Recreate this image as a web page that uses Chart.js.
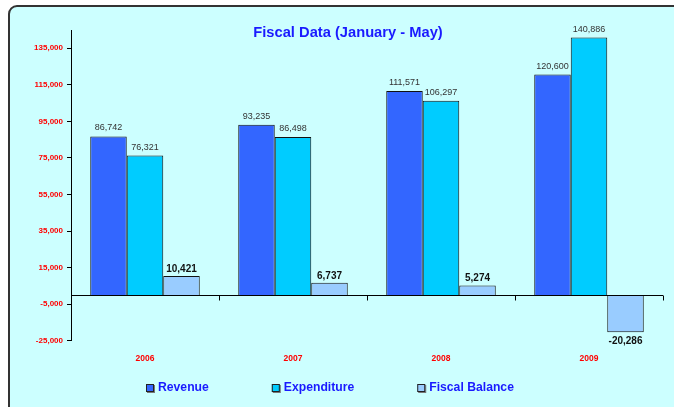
<!DOCTYPE html>
<html>
<head>
<meta charset="utf-8">
<script src="https://cdn.jsdelivr.net/npm/chart.js@4.4.1/dist/chart.umd.min.js"></script>
<style>
  html, body { margin: 0; padding: 0; background: #ffffff; overflow: hidden; }
  #wrap { position: relative; width: 674px; height: 407px; overflow: hidden; }
  #panel { position: absolute; left: 8px; top: 5px; width: 720px; height: 440px;
           background: #CCFFFF; border: 2px solid #333333; border-top-left-radius: 9px; box-sizing: border-box; }
  #c { position: absolute; left: 0; top: 0; }
</style>
</head>
<body>
<div id="wrap">
  <div id="panel"></div>
  <canvas id="c" width="674" height="407"></canvas>
</div>
<script>
const categories = ['2006', '2007', '2008', '2009'];
const revenue = [86742, 93235, 111571, 120600];
const expenditure = [76321, 86498, 106297, 140886];
const fiscalBalance = [10421, 6737, 5274, -20286];
const yTicks = [-25000, -5000, 15000, 35000, 55000, 75000, 95000, 115000, 135000];
const chartTitle = 'Fiscal Data (January - May)';

const FONT = "'Liberation Sans', Arial, Helvetica, sans-serif";
const fmt = v => v.toLocaleString('en-US');

const titlePlugin = {
  id: 'overlayTitle',
  afterDraw(chart) {
    const ctx = chart.ctx;
    ctx.save();
    ctx.font = 'bold 14.7px ' + FONT;
    ctx.fillStyle = '#1A1AFF';
    ctx.textAlign = 'center';
    ctx.textBaseline = 'middle';
    ctx.fillText(chartTitle, 348, 33);
    ctx.restore();
  }
};

const legendPlugin = {
  id: 'bottomLegend',
  afterDraw(chart) {
    const ctx = chart.ctx;
    ctx.save();
    ctx.font = 'bold 12.2px ' + FONT;
    const items = chart.data.datasets.map(ds => ({ text: ds.label, color: ds.backgroundColor, w: 12 + ctx.measureText(ds.label).width }));
    const gap = 63;
    const total = items.reduce((s, it) => s + it.w, 0) + gap * (items.length - 1);
    let x = Math.round(330 - total / 2);
    const yc = 388;
    items.forEach(it => {
      ctx.fillStyle = '#777';
      ctx.fillRect(x + 1, yc - 3, 8, 8);
      ctx.fillStyle = it.color;
      ctx.fillRect(x, yc - 4, 8, 8);
      ctx.strokeStyle = '#222';
      ctx.lineWidth = 1;
      ctx.strokeRect(x + 0.5, yc - 3.5, 7, 7);
      ctx.fillStyle = '#1A1AFF';
      ctx.textAlign = 'left';
      ctx.textBaseline = 'middle';
      ctx.fillText(it.text, x + 12, yc);
      x += it.w + gap;
    });
    ctx.restore();
  }
};

const decorPlugin = {
  id: 'decor',
  afterDatasetsDraw(chart) {
    const ctx = chart.ctx;
    const y = chart.scales.y;
    const y0 = Math.round(y.getPixelForValue(0)) + 0.5;
    const area = chart.chartArea;
    ctx.save();
    ctx.strokeStyle = '#000';
    ctx.lineWidth = 1;
    ctx.beginPath();
    ctx.moveTo(area.left, y0);
    ctx.lineTo(area.right, y0);
    const w = (area.right - area.left) / categories.length;
    for (let i = 1; i <= categories.length; i++) {
      const px = Math.round(area.left + i * w) + 0.5;
      ctx.moveTo(px, y0);
      ctx.lineTo(px, y0 + 5);
    }
    ctx.stroke();

    chart.data.datasets.forEach((ds, di) => {
      const meta = chart.getDatasetMeta(di);
      meta.data.forEach((bar, i) => {
        const v = ds.data[i];
        ctx.textAlign = 'center';
        if (di < 2) {
          ctx.font = '9px ' + FONT;
          ctx.fillStyle = '#333333';
          ctx.textBaseline = 'bottom';
          ctx.fillText(fmt(v), bar.x, bar.y - 4);
        } else {
          ctx.font = 'bold 10px ' + FONT;
          ctx.fillStyle = '#111111';
          if (v >= 0) {
            ctx.textBaseline = 'bottom';
            ctx.fillText(fmt(v), bar.x, bar.y - 2);
          } else {
            ctx.textBaseline = 'top';
            ctx.fillText(fmt(v), bar.x, bar.y + 4);
          }
        }
      });
    });
    ctx.restore();
  }
};

new Chart(document.getElementById('c'), {
  type: 'bar',
  data: {
    labels: categories,
    datasets: [
      { label: 'Revenue', data: revenue, backgroundColor: '#3366FF', borderColor: '#111', borderWidth: 1 },
      { label: 'Expenditure', data: expenditure, backgroundColor: '#00CCFF', borderColor: '#111', borderWidth: 1 },
      { label: 'Fiscal Balance', data: fiscalBalance, backgroundColor: '#99CCFF', borderColor: '#111', borderWidth: 1 }
    ]
  },
  options: {
    responsive: false,
    animation: false,
    devicePixelRatio: 1,
    layout: { padding: { left: 0, right: 11, top: 30, bottom: 38 } },
    datasets: { bar: { categoryPercentage: 0.74, barPercentage: 1.0 } },
    scales: {
      x: {
        grid: { display: false },
        border: { display: false },
        ticks: { color: '#FF0000', font: { family: FONT, size: 8.5, weight: 'bold' }, padding: 5, maxRotation: 0 }
      },
      y: {
        min: -25000,
        max: 145000,
        afterBuildTicks(scale) { scale.ticks = yTicks.map(v => ({ value: v })); },
        afterFit(scale) { scale.width = 71; },
        grid: { drawOnChartArea: false, tickLength: 4, tickColor: '#000', color: '#000' },
        border: { display: true, color: '#000', width: 1 },
        ticks: {
          color: '#FF0000', font: { family: FONT, size: 8, weight: 'bold' }, padding: 4,
          callback: v => fmt(v)
        }
      }
    },
    plugins: {
      title: { display: false },
      tooltip: { enabled: false },
      legend: { display: false }
    }
  },
  plugins: [titlePlugin, decorPlugin, legendPlugin]
});
</script>
</body>
</html>
